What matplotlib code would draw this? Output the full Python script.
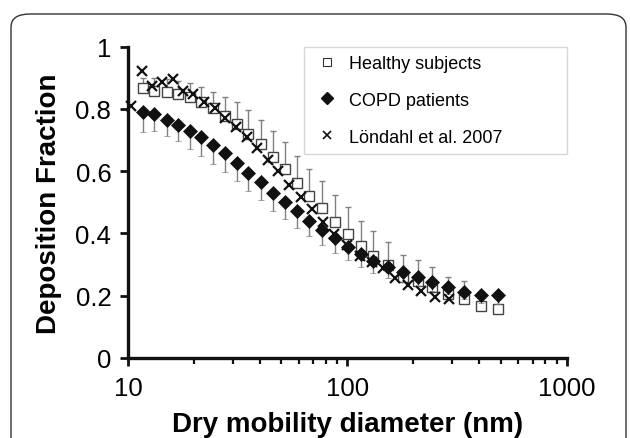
import numpy as np
import matplotlib
matplotlib.use("Agg")
import matplotlib.pyplot as plt
from matplotlib.patches import FancyBboxPatch
from matplotlib.lines import Line2D
from matplotlib.ticker import FixedLocator, LogLocator, NullFormatter

plt.rcParams['font.family'] = ['Liberation Sans', 'DejaVu Sans']

# ---- data ----
diam = [11.7, 13.2, 15.0, 16.9, 19.1, 21.6, 24.5, 27.8, 31.4, 35.4, 40.3, 45.8,
        51.9, 58.9, 67.0, 76.5, 87.4, 100.8, 115.7, 131.5, 154.0, 180.0, 209.0,
        244.0, 288.0, 342.0, 405.0, 488.0]
healthy = [0.866, 0.859, 0.856, 0.848, 0.837, 0.821, 0.802, 0.778, 0.752, 0.721,
           0.687, 0.647, 0.607, 0.562, 0.521, 0.481, 0.438, 0.398, 0.361, 0.329,
           0.299, 0.260, 0.248, 0.227, 0.206, 0.190, 0.166, 0.157]
healthy_err = [0.035, 0.041, 0.039, 0.043, 0.045, 0.048, 0.054, 0.062, 0.070, 0.075,
               0.078, 0.081, 0.086, 0.088, 0.086, 0.087, 0.087, 0.086, 0.080, 0.078,
               0.073, 0.070, 0.067, 0.066, 0.054, 0.056, 0.035, 0.045]
copd = [0.791, 0.784, 0.766, 0.750, 0.730, 0.709, 0.684, 0.659, 0.626, 0.594,
        0.564, 0.530, 0.500, 0.471, 0.441, 0.412, 0.385, 0.357, 0.334, 0.311,
        0.292, 0.277, 0.260, 0.243, 0.227, 0.211, 0.203, 0.203]
copd_err = [0.064, 0.055, 0.054, 0.052, 0.059, 0.060, 0.061, 0.061, 0.058, 0.059,
            0.058, 0.057, 0.054, 0.052, 0.049, 0.049, 0.047, 0.043, 0.041, 0.038,
            0.035, 0.034, 0.029, 0.027, 0.022, 0.021, 0.025, 0.030]
lond_diam = [10.3, 11.6, 12.9, 14.3, 16.0, 17.8, 19.8, 22.1, 24.8, 27.7, 31.1, 34.8,
             38.9, 43.4, 48.5, 54.4, 61.5, 68.8, 77.7, 87.3, 99.4, 114.0, 129.0,
             146.0, 165.0, 189.0, 217.0, 251.0, 291.0]
lond = [0.810, 0.923, 0.873, 0.887, 0.896, 0.857, 0.848, 0.823, 0.803, 0.771,
        0.743, 0.709, 0.675, 0.637, 0.600, 0.557, 0.516, 0.479, 0.436, 0.398,
        0.362, 0.329, 0.309, 0.288, 0.256, 0.235, 0.214, 0.197, 0.190]
labels = ['Healthy subjects', 'COPD patients', 'Löndahl et al. 2007']
yticks = [0, 0.2, 0.4, 0.6, 0.8, 1.0]
ytick_labels = ['0', '0.2', '0.4', '0.6', '0.8', '1']
xticks = [10, 100, 1000]
xtick_labels = ['10', '100', '1000']

W, H = 630, 439
fig = plt.figure(figsize=(W / 100, H / 100), dpi=100)

# rounded frame
frame = FancyBboxPatch((11 / W, -0.2), (626 - 11) / W, (439 - 15) / H + 0.2,
                       boxstyle="round,pad=0,rounding_size=0.03",
                       transform=fig.transFigure, fill=False,
                       edgecolor='#333333', linewidth=1.0, clip_on=False)
fig.patches.append(frame)

ax = fig.add_axes([128 / W, 80 / H, (566.7 - 128) / W, (359 - 47.7) / H])
ax.set_xscale('log')
ax.set_xlim(10, 1000)
ax.set_ylim(0, 1)

n = len(diam)
zeros = np.zeros(n)

# healthy: upward errors
eb1 = ax.errorbar(diam, healthy, yerr=[zeros, healthy_err], fmt='s', ms=7.2,
                  mfc='white', mec='#444444', mew=1.0, ecolor='#808080',
                  elinewidth=1.0, capsize=2.5, capthick=1.0, zorder=3)
for c in eb1[1]:
    c.set_color('#333333')
# COPD: downward errors
eb2 = ax.errorbar(diam, copd, yerr=[copd_err, zeros], fmt='D', ms=7.5,
                  mfc='#111111', mec='#111111', mew=0.5, ecolor='#808080',
                  elinewidth=1.0, capsize=2.5, capthick=1.0, zorder=4)
for c in eb2[1]:
    c.set_color('#333333')
ax.plot(lond_diam, lond, 'x', ms=7.5, mew=1.6, color='#111111', zorder=5,
        clip_on=False)

for s in ['top', 'right']:
    ax.spines[s].set_visible(False)
for s in ['left', 'bottom']:
    ax.spines[s].set_linewidth(2.4)
    ax.spines[s].set_color('#111111')

ax.set_yticks(yticks)
ax.set_yticklabels(ytick_labels)
ax.xaxis.set_major_locator(FixedLocator(xticks))
ax.set_xticklabels(xtick_labels)
ax.xaxis.set_minor_locator(LogLocator(base=10, subs=np.arange(2, 10)))
ax.xaxis.set_minor_formatter(NullFormatter())
ax.tick_params(axis='y', which='major', direction='out', length=6, width=2,
               labelsize=18.5, pad=6, color='#111111')
ax.tick_params(axis='x', which='major', direction='out', length=6, width=2,
               labelsize=18.5, pad=7, color='#111111')
ax.tick_params(axis='x', which='minor', direction='out', length=4, width=1.6,
               color='#111111')

ax.set_ylabel('Deposition Fraction', fontsize=20, fontweight='bold', labelpad=10)
ax.set_xlabel('Dry mobility diameter (nm)', fontsize=20, fontweight='bold',
              labelpad=8)

handles = [
    Line2D([], [], ls='none', marker='s', ms=6, mfc='white', mec='#333333', mew=0.8),
    Line2D([], [], ls='none', marker='D', ms=6, mfc='#111111', mec='#111111'),
    Line2D([], [], ls='none', marker='x', ms=5.5, mew=1.2, color='#111111'),
]
x0 = (304 - 128) / (566.7 - 128)
leg = ax.legend(handles, labels, loc='upper left',
                bbox_to_anchor=(x0, 0, 1 - x0, 1.0), mode='expand',
                borderaxespad=0, fontsize=13, frameon=True, fancybox=False,
                edgecolor='#cccccc', handlelength=1.6, handletextpad=0.45,
                borderpad=0.45, labelspacing=1.1, numpoints=1)
leg.get_frame().set_linewidth(1.0)

fig.savefig('out.png', dpi=100)
